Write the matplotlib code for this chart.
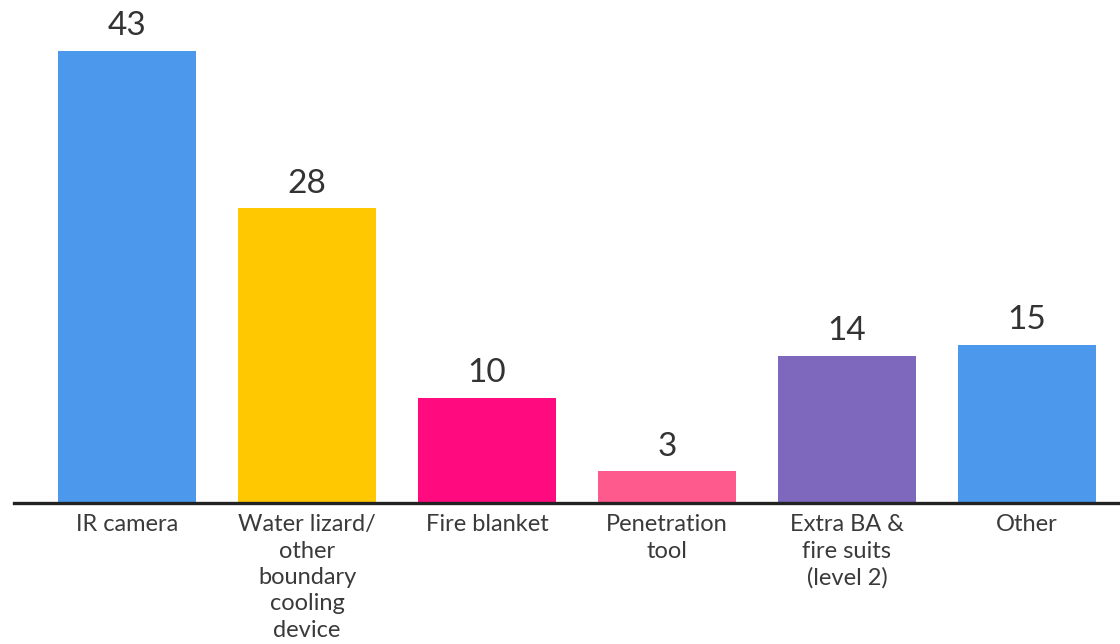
import numpy as np
from matplotlib import pyplot as plt

categories = ['IR camera', 'Water lizard/\nother\nboundary\ncooling\ndevice', 'Fire blanket',
              'Penetration\ntool', 'Extra BA &\nfire suits\n(level 2)', 'Other']
values = [43, 28, 10, 3, 14, 15]
colors = ['#4C98EC', '#FFC800', '#FF0A7F', '#FF5A8D', '#7D68BE', '#4C98EC']


def main():
    plt.rcParams['font.family'] = ['Lato', 'DejaVu Sans']
    fig = plt.figure(figsize=[11.2, 6.44], dpi=100)
    fig.patch.set_facecolor('w')

    # axes placed so the baseline sits where the reference has it
    ax = fig.add_axes([14/1120, 141/644, 1 - 14/1120, 503/644])

    x = np.arange(len(values))
    bars = ax.bar(x, values, width=0.767, color=colors, zorder=2)

    for b, v in zip(bars, values):
        ax.annotate(str(v), (b.get_x() + b.get_width()/2, v), xytext=(0, 7),
                    textcoords='offset points', ha='center', va='bottom',
                    fontsize=24, color='#333333')

    ax.set_xlim(-0.628, 5.517)
    ax.set_ylim(0, 47.8)

    ax.set_xticks(x)
    ax.set_xticklabels(categories, fontsize=17, color='#3a3a3a', linespacing=1.32)
    ax.tick_params(axis='x', length=0, pad=8)
    ax.set_yticks([])

    for s in ['top', 'right', 'left']:
        ax.spines[s].set_visible(False)
    ax.spines['bottom'].set_linewidth(2.4)
    ax.spines['bottom'].set_color('#222222')
    ax.spines['bottom'].set_zorder(3)

    plt.savefig('out.png', dpi=100)


if __name__ == '__main__':
    main()
